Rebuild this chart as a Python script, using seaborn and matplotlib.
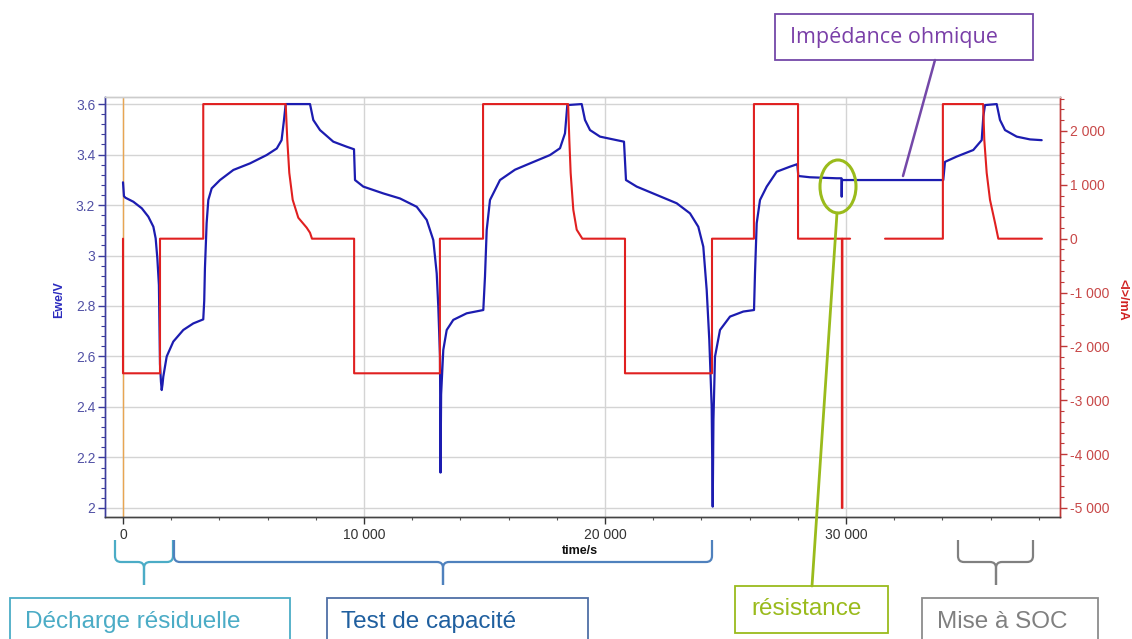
import numpy as np
import pandas as pd
import matplotlib
matplotlib.use('Agg')
import matplotlib.pyplot as plt
import seaborn as sns
from matplotlib.ticker import MultipleLocator, FuncFormatter
from matplotlib.path import Path
from matplotlib.patches import PathPatch, Rectangle, Ellipse

sns.set_theme(style='white')
plt.rcParams['font.family'] = ['Liberation Sans', 'DejaVu Sans']
plt.rcParams['axes.unicode_minus'] = False

# tension Ewe (V) en fonction du temps (s)
volt_t = [0, 40, 100, 430, 780, 1050, 1260, 1355, 1425, 1490,
          1535, 1575, 1606, 1640, 1672, 1813, 2087, 2502, 2917, 3330,
          3370, 3400, 3470, 3540, 3680, 4025, 4580, 5270, 5960, 6380,
          6580, 6680, 6750, 7760, 7896, 8174, 8726, 9282, 9585, 9627,
          9971, 10801, 11494, 12187, 12602, 12876, 13017, 13083, 13154, 13175,
          13200, 13290, 13432, 13705, 14261, 14950, 15020, 15091, 15228, 15643,
          16266, 16888, 17718, 18133, 18340, 18436, 19033, 19170, 19378, 19793,
          20486, 20788, 20871, 21315, 22145, 22975, 23527, 23871, 24079, 24220,
          24328, 24427, 24469, 24500, 24564, 24772, 25187, 25739, 26183, 26224,
          26295, 26432, 26710, 27124, 27676, 27979, 28021, 28506, 29614, 29813,
          29822, 29834, 29888, 34037, 34108, 34593, 35282, 35631, 35697, 35768,
          36253, 36390, 36598, 37083, 37635, 38120]
volt_v = [3.29, 3.235, 3.229, 3.213, 3.187, 3.154, 3.114, 3.068, 2.989, 2.883,
          2.57, 2.50, 2.467, 2.49, 2.52, 2.60, 2.659, 2.705, 2.731, 2.747,
          2.82, 2.95, 3.128, 3.22, 3.266, 3.299, 3.339, 3.365, 3.398, 3.424,
          3.457, 3.537, 3.6, 3.6, 3.537, 3.497, 3.451, 3.431, 3.421, 3.299,
          3.273, 3.246, 3.226, 3.193, 3.141, 3.061, 2.929, 2.797, 2.599, 2.14,
          2.45, 2.626, 2.705, 2.745, 2.771, 2.784, 2.916, 3.101, 3.22, 3.299,
          3.34, 3.365, 3.398, 3.425, 3.484, 3.596, 3.6, 3.537, 3.497, 3.471,
          3.457, 3.451, 3.299, 3.273, 3.24, 3.207, 3.167, 3.114, 3.035, 2.863,
          2.665, 2.401, 2.005, 2.35, 2.599, 2.705, 2.758, 2.778, 2.784, 2.929,
          3.128, 3.22, 3.273, 3.332, 3.352, 3.362, 3.315, 3.31, 3.306, 3.306,
          3.233, 3.30, 3.299, 3.299, 3.371, 3.392, 3.418, 3.457, 3.55, 3.596,
          3.6, 3.537, 3.497, 3.471, 3.46, 3.457]

# courant <I> (mA), deux segments (trou entre les deux)
cur_t_a = [0, 0, 1535, 1535, 3330, 3330,
           6750, 6817, 6900, 7041, 7274, 7622, 7759, 7842,
           9590, 9590, 13150, 13150, 14940, 14940,
           18470, 18520, 18575, 18685, 18826, 19060,
           20830, 20830, 24440, 24440, 26180, 26180,
           28010, 28010, 29830, 29830, 29850, 29850, 30170]
cur_i_a = [0, -2500, -2500, 0, 0, 2500,
           2500, 1833, 1222, 722, 389, 204, 111, 0,
           0, -2500, -2500, 0, 0, 2500,
           2500, 1833, 1222, 537, 167, 0,
           0, -2500, -2500, 0, 0, 2500,
           2500, 0, 0, -5000, -5000, 0, 0]
cur_t_b = [31620, 34020, 34020, 35690, 35739, 35838, 35975, 36183, 36320, 38130]
cur_i_b = [0, 0, 2500, 2500, 1833, 1222, 722, 296, 0, 0]

x_ticks = [0, 10000, 20000, 30000]
v_ticks = [2.0, 2.2, 2.4, 2.6, 2.8, 3.0, 3.2, 3.4, 3.6]
i_ticks = [-5000, -4000, -3000, -2000, -1000, 0, 1000, 2000]

df_v = pd.DataFrame({'t': volt_t, 'v': volt_v})
df_i = pd.DataFrame({'t': cur_t_a + cur_t_b, 'i': cur_i_a + cur_i_b,
                     'seg': ['a'] * len(cur_t_a) + ['b'] * len(cur_t_b)})

blue = '#1c1cb0'
red = '#e02020'

fig = plt.figure(figsize=(11.32, 6.39), dpi=100)
ax = fig.add_axes([105 / 1132, 1 - 517 / 639, 955 / 1132, 420 / 639])
ax2 = ax.twinx()

sns.lineplot(data=df_v, x='t', y='v', sort=False, estimator=None,
             color=blue, lw=1.6, ax=ax)
sns.lineplot(data=df_i, x='t', y='i', units='seg', sort=False, estimator=None,
             color=red, lw=1.5, ax=ax2)
ax.axvline(0, color='#e8a552', lw=1, zorder=1)

ax.set_xlim(-747, 38880)
ax.set_ylim(1.964, 3.628)
ax2.set_ylim(-5168.75, 2631.25)

ax.set_xticks(x_ticks)
ax.set_yticks(v_ticks)
ax2.set_yticks(i_ticks)
ax.xaxis.set_minor_locator(MultipleLocator(2000))
ax.yaxis.set_minor_locator(MultipleLocator(0.04))
ax2.yaxis.set_minor_locator(MultipleLocator(200))

sep = FuncFormatter(lambda v, p: f"{v:,.0f}".replace(",", " "))
ax.xaxis.set_major_formatter(sep)
ax2.yaxis.set_major_formatter(sep)
ax.yaxis.set_major_formatter(FuncFormatter(lambda v, p: f"{v:g}"))

ax.grid(True, color='#d4d4d4', lw=1)
ax.set_axisbelow(True)
ax.set_xlabel('')
ax.set_ylabel('')
ax2.set_ylabel('')

ax.tick_params(axis='y', which='major', direction='out', length=5, width=1,
               colors='#3c3c9c', labelcolor='#5252a6', labelsize=10, pad=2, left=True)
ax.tick_params(axis='y', which='minor', direction='out', length=3, width=0.8,
               colors='#3c3c9c', left=True)
ax2.tick_params(axis='y', which='major', direction='out', length=5, width=1,
                colors='#c03838', labelcolor='#c84848', labelsize=10, pad=2, right=True)
ax2.tick_params(axis='y', which='minor', direction='out', length=3, width=0.8,
                colors='#c03838', right=True)
ax.tick_params(axis='x', which='major', direction='out', length=5, width=1,
               colors='#333333', labelsize=10, pad=3, bottom=True)
ax.tick_params(axis='x', which='minor', direction='out', length=2, width=0.8,
               colors='#555555', bottom=True)

for a in (ax, ax2):
    a.spines['left'].set_color('#3c3c9c')
    a.spines['right'].set_color('#c03838')
    a.spines['bottom'].set_color('#444444')
    a.spines['top'].set_color('#cccccc')
    for s in a.spines.values():
        s.set_linewidth(1)

# calque d'annotations en pixels
ov = fig.add_axes([0, 0, 1, 1])
ov.set_xlim(0, 1132)
ov.set_ylim(639, 0)
ov.axis('off')

ov.text(59, 300, 'Ewe/V', rotation=90, ha='center', va='center',
        fontsize=9, fontweight='bold', color='#2b2bbf')
ov.text(1123, 300, '<I>/mA', rotation=270, ha='center', va='center',
        fontsize=9, fontweight='bold', color='#d02020')
ov.text(580, 551, 'time/s', ha='center', va='center',
        fontsize=9, fontweight='bold', color='#111111')


def brace(x0, x1, xm, ytop, ymid, ybot, color, r=6):
    for xe in (x0, x1):
        d = 1 if xe < xm else -1
        verts = [(xe, ytop), (xe, ymid - r), (xe, ymid), (xe + d * r, ymid),
                 (xm - d * r, ymid), (xm, ymid), (xm, ymid + r), (xm, ybot)]
        codes = [Path.MOVETO, Path.LINETO, Path.CURVE3, Path.CURVE3,
                 Path.LINETO, Path.CURVE3, Path.CURVE3, Path.LINETO]
        ov.add_patch(PathPatch(Path(verts, codes), fill=False, ec=color, lw=1.6))


brace(115, 173, 144, 540, 562, 585, '#4bacc6')
brace(174, 712, 443, 540, 562, 585, '#4f81bd')
brace(958, 1033, 996, 540, 562, 585, '#808080')


def box(x0, y0, x1, y1, text, tx, ec, tc, fs=17.5, font=None):
    ov.add_patch(Rectangle((x0, y0), x1 - x0, y1 - y0, fill=True, fc='white',
                           ec=ec, lw=1.3))
    kw = {'family': font} if font else {}
    ov.text(tx, (y0 + min(y1, 646)) / 2, text, ha='left', va='center',
            fontsize=fs, color=tc, **kw)


box(10, 598, 290, 660, 'Décharge résiduelle', 25, '#4bacc6', '#4bacc6')
box(327, 598, 588, 660, 'Test de capacité', 341, '#4f6fa6', '#1f5f9f')
box(922, 598, 1098, 660, 'Mise à SOC', 937, '#8c8c8c', '#808080')

green = '#9abb1c'
ov.add_patch(Ellipse((838, 186.5), 36, 53, fill=False, ec=green, lw=2.2))
ov.plot([837, 812], [213, 586], color=green, lw=2)
ov.add_patch(Rectangle((735, 586), 153, 47, fill=True, fc='white', ec=green, lw=1.3))
ov.text(751, 609, 'résistance', ha='left', va='center', fontsize=17.5, color=green)

purple = '#7448a8'
ov.plot([935, 903], [60, 176], color=purple, lw=1.8)
ov.add_patch(Rectangle((775, 14), 258, 46, fill=True, fc='white', ec=purple, lw=1.3))
ov.text(790, 37, 'Impédance ohmique', ha='left', va='center', fontsize=15.5,
        color='#7a3fa8', family=['Open Sans', 'DejaVu Sans'])

fig.savefig('out.png', dpi=100)
